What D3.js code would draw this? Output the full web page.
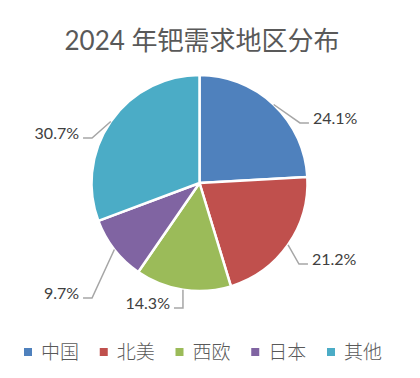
<!DOCTYPE html>
<html><head><meta charset="utf-8">
<script src="https://cdn.jsdelivr.net/npm/d3@7"></script>
<style>body{margin:0;background:#fff}svg{display:block}</style>
</head><body>
<script>
const title = "2024 年钯需求地区分布";
const categories = ["中国", "北美", "西欧", "日本", "其他"];
const values = [24.1, 21.2, 14.3, 9.7, 30.7];
const colors = ["#4F81BD", "#C0504D", "#9BBB59", "#8064A2", "#4BACC6"];
// label elbow placement (relative to pie centre, in radius units) and side
const labelLayout = [[0.93,-0.556,1],[0.921,0.75,1],[-0.153,1.157,-1],[-0.995,1.065,-1],[-0.995,-0.417,-1]];

const W=420,H=378, cx=199.5, cy=183, R=108;
const font = "Lato, 'Noto Sans CJK SC', sans-serif";
const svg = d3.select("body").append("svg").attr("width",W).attr("height",H);

svg.append("text").attr("x",202).attr("y",50).attr("text-anchor","middle")
  .attr("font-family",font).attr("font-size",26).attr("fill","#595959").text(title);

const pie = d3.pie().sort(null).value(d=>d);
const arcs = pie(values);
const arc = d3.arc().innerRadius(0).outerRadius(R);
const g = svg.append("g").attr("transform",`translate(${cx},${cy})`);
g.selectAll("path").data(arcs).join("path").attr("d",arc)
  .attr("fill",(d,i)=>colors[i]).attr("stroke","#fff").attr("stroke-width",2.5).attr("stroke-linejoin","round");

const lab = g.append("g");
arcs.forEach((d,i)=>{
  const a=(d.startAngle+d.endAngle)/2;
  const sx=Math.sin(a)*R, sy=-Math.cos(a)*R;
  const [ex,ey,side]=labelLayout[i];
  const exP=ex*R, eyP=ey*R;
  const hx=exP+side*9;
  lab.append("polyline").attr("points",`${sx},${sy} ${exP},${eyP} ${hx},${eyP}`)
    .attr("fill","none").attr("stroke","#A6A6A6").attr("stroke-width",1.5);
  lab.append("text").attr("x",hx+side*4).attr("y",eyP-5).attr("dy","0.35em")
    .attr("text-anchor",side>0?"start":"end").attr("font-family",font).attr("font-size",16)
    .attr("fill","#404040").text(values[i].toFixed(1)+"%");
});

const legX = d3.scalePoint().domain(categories).range([24,327]);
const leg = svg.append("g");
categories.forEach((c,i)=>{
  const x=legX(c);
  leg.append("rect").attr("x",x).attr("y",348).attr("width",8).attr("height",8).attr("fill",colors[i]);
  leg.append("text").attr("x",x+17).attr("y",352).attr("dy","0.35em").attr("font-family",font)
    .attr("font-size",19).attr("font-weight",300).attr("fill","#595959").text(c);
});
</script>
</body></html>
